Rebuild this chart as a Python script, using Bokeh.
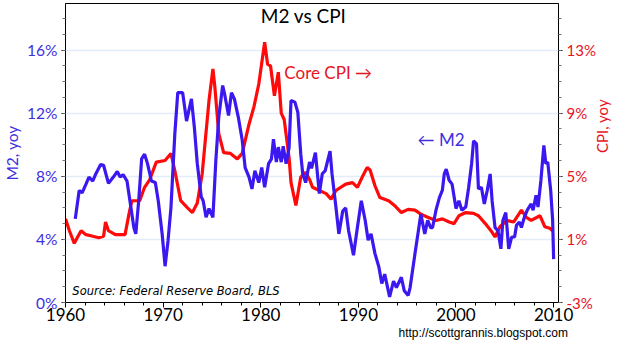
from math import pi
from bokeh.plotting import figure
from bokeh.models import (Range1d, LinearAxis, FixedTicker, PrintfTickFormatter, Label, Title)
from bokeh.embed import file_html
from bokeh.resources import INLINE

# ---- data ----
m2_year = [1961.0, 1961.4, 1961.7, 1962.1, 1962.4, 1962.8, 1963.1, 1963.6, 1963.9, 1964.4,
           1964.9, 1965.3, 1965.6, 1965.9, 1966.3, 1966.6, 1967.0, 1967.2, 1967.5, 1967.8,
           1968.1, 1968.4, 1968.8, 1969.2, 1969.5, 1969.9, 1970.2, 1970.5, 1970.8, 1971.2,
           1971.5, 1972.0, 1972.4, 1972.9, 1973.2, 1973.5, 1973.9, 1974.1, 1974.4, 1974.7,
           1975.1, 1975.4, 1975.7, 1976.1, 1976.3, 1976.7, 1977.0, 1977.3, 1977.7, 1978.1,
           1978.4, 1978.8, 1979.1, 1979.4, 1979.8, 1980.1, 1980.4, 1980.8, 1981.1, 1981.3,
           1981.6, 1981.8, 1982.1, 1982.3, 1982.6, 1982.9, 1983.1, 1983.5, 1983.8, 1984.1,
           1984.3, 1984.6, 1985.0, 1985.2, 1985.6, 1986.0, 1986.3, 1986.6, 1987.1, 1987.3,
           1987.7, 1988.0, 1988.4, 1988.7, 1989.0, 1989.5, 1989.9, 1990.3, 1990.7, 1991.0,
           1991.3, 1991.7, 1992.1, 1992.4, 1992.7, 1993.2, 1993.6, 1993.9, 1994.4, 1994.7,
           1995.1, 1995.3, 1995.8, 1996.1, 1996.4, 1996.8, 1997.1, 1997.4, 1997.6, 1997.95,
           1998.3, 1998.6, 1998.8, 1999.0, 1999.3, 1999.6, 2000.0, 2000.3, 2000.6, 2001.0,
           2001.3, 2001.6, 2001.8, 2002.1, 2002.3, 2002.6, 2002.9, 2003.2, 2003.5, 2003.7,
           2004.0, 2004.3, 2004.6, 2004.8, 2005.1, 2005.4, 2005.7, 2006.0, 2006.2, 2006.5,
           2006.7, 2007.0, 2007.3, 2007.7, 2007.9, 2008.2, 2008.4, 2008.7, 2009.0, 2009.2,
           2009.4, 2009.7, 2009.9, 2010.0]
m2_yoy = [5.3, 7.1, 6.95, 7.5, 7.95, 7.7, 8.15, 8.75, 8.7, 7.55,
          7.95, 8.3, 7.95, 8.1, 7.7, 6.45, 4.75, 4.35, 6.45, 9.1,
          9.4, 8.8, 7.7, 7.6, 6.45, 4.35, 2.3, 3.9, 6.0, 10.7,
          13.3, 13.3, 11.5, 12.9, 11.1, 8.8, 6.7, 6.45, 5.4, 5.95,
          5.4, 9.0, 11.75, 13.75, 13.2, 11.85, 13.3, 12.9, 11.75, 10.3,
          8.55, 7.95, 7.2, 8.35, 7.6, 8.55, 7.3, 8.8, 9.1, 10.35,
          8.9, 9.85, 8.9, 9.9, 8.8, 9.8, 12.8, 12.7, 12.05, 9.4,
          8.15, 7.6, 8.9, 8.5, 9.5, 6.9, 8.15, 8.35, 9.6, 8.15,
          6.05, 4.35, 5.8, 6.0, 4.55, 3.0, 4.75, 6.45, 5.2, 3.95,
          4.35, 3.1, 2.25, 1.2, 1.8, 0.35, 1.35, 0.95, 1.6, 0.75,
          0.45, 0.95, 3.1, 4.35, 5.6, 4.35, 5.2, 4.75, 4.75, 5.85,
          6.65, 7.1, 8.15, 8.45, 7.75, 7.5, 5.95, 6.45, 5.85, 6.05,
          7.3, 8.8, 10.25, 10.05, 7.2, 7.3, 6.25, 7.1, 8.15, 6.45,
          4.75, 4.55, 3.4, 5.2, 5.7, 3.4, 4.15, 4.15, 4.9, 5.1,
          4.75, 5.4, 5.85, 6.25, 5.85, 6.8, 6.05, 7.75, 9.95, 8.8,
          8.9, 7.1, 5.2, 2.75]

cpi_year = [1960.0, 1960.4, 1960.9, 1961.2, 1961.6, 1962.1, 1962.8, 1963.4, 1963.9, 1964.1,
            1964.4, 1965.1, 1966.1, 1966.5, 1966.8, 1967.6, 1968.1, 1968.6, 1969.3, 1970.2,
            1970.8, 1971.2, 1971.8, 1972.5, 1973.0, 1973.5, 1974.0, 1974.7, 1975.1, 1975.3,
            1975.7, 1976.2, 1976.9, 1977.6, 1978.1, 1978.8, 1979.3, 1979.8, 1980.4, 1980.7,
            1981.0, 1981.4, 1981.8, 1982.1, 1982.4, 1982.9, 1983.1, 1983.6, 1984.1, 1984.6,
            1985.0, 1985.3, 1986.0, 1986.7, 1987.2, 1987.7, 1988.7, 1989.4, 1989.9, 1990.4,
            1990.9, 1991.2, 1991.7, 1992.2, 1993.1, 1993.7, 1994.4, 1995.1, 1995.8, 1996.4,
            1997.1, 1997.95, 1998.6, 1999.3, 1999.8, 2000.3, 2001.0, 2001.8, 2002.3, 2003.0,
            2003.7, 2004.0, 2004.5, 2005.2, 2005.9, 2006.7, 2007.2, 2007.7, 2008.6, 2009.1,
            2009.6, 2009.9]
cpi_yoy = [2.3, 1.55, 0.75, 1.1, 1.55, 1.3, 1.2, 1.1, 1.2, 2.1,
           1.55, 1.3, 1.3, 2.6, 3.45, 3.45, 4.3, 4.75, 5.9, 6.0,
           6.45, 5.35, 3.45, 3.0, 2.7, 3.3, 5.15, 9.8, 11.8, 10.65,
           7.7, 6.5, 6.45, 6.1, 6.45, 8.3, 9.4, 10.85, 13.5, 12.1,
           12.0, 10.1, 11.6, 9.0, 8.6, 6.2, 4.6, 3.15, 4.95, 5.25,
           4.8, 4.3, 4.1, 3.9, 3.55, 4.1, 4.5, 4.6, 4.3, 4.95,
           5.55, 5.4, 4.4, 3.65, 3.45, 3.15, 2.7, 2.9, 2.85, 2.6,
           2.4, 2.2, 2.3, 2.1, 2.0, 2.5, 2.7, 2.65, 2.5, 2.0,
           1.45, 1.15, 1.8, 2.2, 2.1, 2.85, 2.4, 2.2, 2.5, 1.8,
           1.7, 1.55]

left_ticks = [0, 4, 8, 12, 16]
right_ticks = [-3, 1, 5, 9, 13]
year_ticks = [1960, 1970, 1980, 1990, 2000, 2010]

BLUE = "#3c18f0"
BLUE_TXT = "#3e2ee0"
RED = "#ff0a0a"
RED_TXT = "#e8141e"
FONT = "Lato"

p = figure(width=622, height=348, x_range=Range1d(1960, 2010.5), y_range=Range1d(0, 18.95),
           output_backend="svg", toolbar_location=None,
           min_border_left=61, min_border_right=61, min_border_top=3, min_border_bottom=46)
p.title.visible = False
p.extra_y_ranges = {"cpi": Range1d(-3, 15.95)}
p.outline_line_color = "black"
p.outline_line_width = 1
p.background_fill_color = "white"
p.border_fill_color = "white"

p.xgrid.visible = False
p.ygrid.ticker = FixedTicker(ticks=left_ticks[1:])
p.ygrid.grid_line_color = "#e2edf9"
p.ygrid.grid_line_width = 1.5

# bottom axis
xa = p.xaxis[0]
xa.ticker = FixedTicker(ticks=year_ticks, minor_ticks=list(range(1960, 2011, 2)))
xa.major_label_text_font = FONT
xa.major_label_text_font_size = "17px"
xa.major_label_text_color = "black"
xa.major_tick_out = 5
xa.major_tick_in = 0
xa.minor_tick_out = 3
xa.minor_tick_in = 0
xa.major_label_standoff = 0
xa.axis_line_color = "black"

# left axis
ya = p.yaxis[0]
ya.ticker = FixedTicker(ticks=left_ticks, minor_ticks=list(range(0, 19)))
ya.formatter = PrintfTickFormatter(format="%d%%")
ya.major_label_text_font = FONT
ya.major_label_text_font_size = "15.5px"
ya.major_label_text_color = BLUE_TXT
ya.major_tick_out = 4
ya.major_tick_in = 0
ya.minor_tick_out = 3
ya.minor_tick_in = 0
ya.major_label_standoff = 4
ya.minor_tick_line_color = "#777777"
ya.axis_label = "M2, yoy"
ya.axis_label_text_font = FONT
ya.axis_label_text_font_size = "15.5px"
ya.axis_label_text_font_style = "normal"
ya.axis_label_text_color = BLUE_TXT
ya.axis_label_standoff = 3

# right axis
ra = LinearAxis(y_range_name="cpi",
                ticker=FixedTicker(ticks=right_ticks, minor_ticks=list(range(-3, 16))),
                formatter=PrintfTickFormatter(format="%d%%"))
ra.major_label_text_font = FONT
ra.major_label_text_font_size = "15px"
ra.major_label_text_color = RED_TXT
ra.major_tick_out = 4
ra.major_tick_in = 0
ra.minor_tick_out = 3
ra.minor_tick_in = 0
ra.major_label_standoff = 4
ra.minor_tick_line_color = "#777777"
ra.axis_label = "CPI, yoy"
ra.axis_label_text_font = FONT
ra.axis_label_text_font_size = "15px"
ra.axis_label_text_font_style = "normal"
ra.axis_label_text_color = RED_TXT
ra.axis_label_standoff = 3
try:
    ra.axis_label_orientation = pi / 2
except Exception:
    pass
p.add_layout(ra, "right")

# lines
p.line(cpi_year, cpi_yoy, y_range_name="cpi", line_color=RED, line_width=3.2)
p.line(m2_year, m2_yoy, line_color=BLUE, line_width=3.2)

# texts inside the frame (left-aligned)
p.add_layout(Label(x=1980.0, y=18.19, text="M2 vs CPI", text_align="left",
                   text_baseline="middle", text_font=FONT, text_font_size="19px",
                   text_color="black"))
p.add_layout(Label(x=1982.42, y=14.58, text="Core CPI \u2192", text_align="left",
                   text_baseline="middle", text_font=FONT, text_font_size="17px",
                   text_color=RED_TXT))
p.add_layout(Label(x=1996.06, y=10.33, text="\u2190 M2", text_align="left",
                   text_baseline="middle", text_font=FONT, text_font_size="17px",
                   text_color=BLUE_TXT))
p.add_layout(Label(x=1960.7, y=0.7, text="Source:  Federal Reserve Board, BLS",
                   text_align="left", text_baseline="middle", text_font="DejaVu Sans",
                   text_font_style="italic", text_font_size="11.5px", text_color="black"))

# URL below the plot
url = Title(text="http://scottgrannis.blogspot.com", align="left", offset=333,
            text_font="Liberation Sans", text_font_size="12px",
            text_font_style="normal", text_color="black", standoff=0)
p.add_layout(url, "below")

open("out.html", "w").write(file_html(p, INLINE))
